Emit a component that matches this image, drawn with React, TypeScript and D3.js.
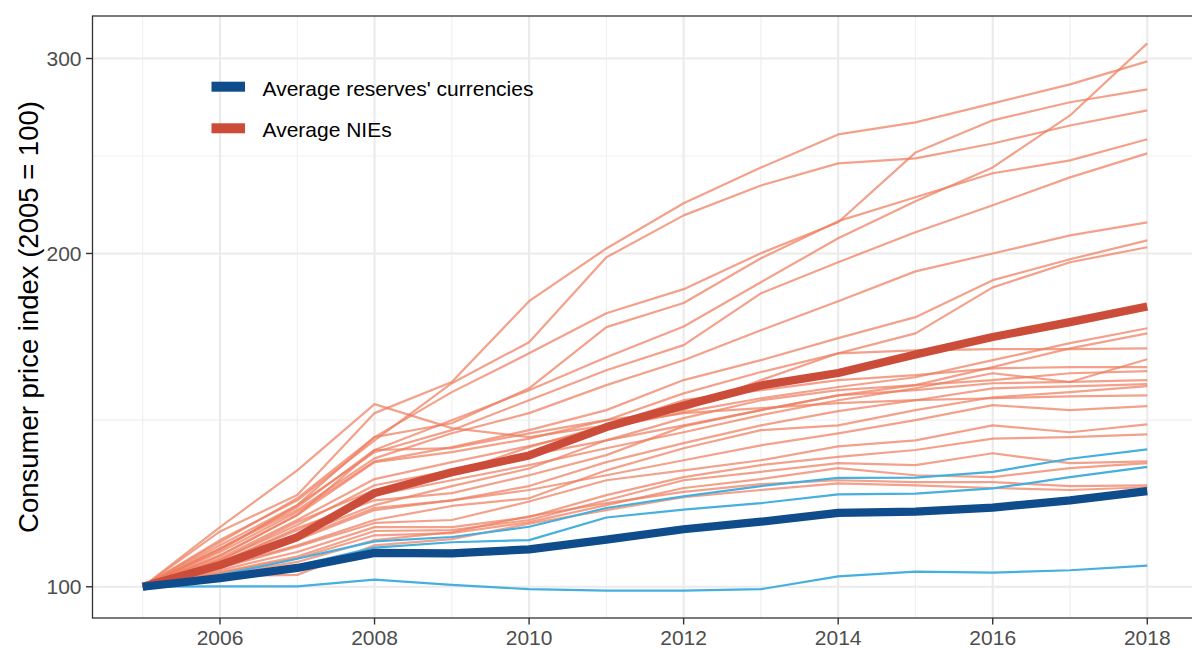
import React from "react";
import * as d3 from "d3";

// ---- data (CPI index, 2005 = 100) ----
const years = [2005, 2006, 2007, 2008, 2009, 2010, 2011, 2012, 2013, 2014, 2015, 2016, 2017, 2018];

const avgReserves = [100, 101.8, 104.0, 107.3, 107.2, 108.1, 110.3, 112.7, 114.5, 116.6, 116.9, 117.9, 119.7, 122.0];
const avgNIEs = [100, 104.6, 110.9, 121.5, 126.9, 131.4, 139.4, 145.8, 152.0, 156.0, 162.1, 168.1, 173.4, 179.1];

const reserve1 = [100, 102.5, 106.0, 109.9, 110.9, 113.3, 117.8, 120.7, 123.3, 125.4, 125.5, 127.0, 130.5, 133.1];
const reserve2 = [100, 101.5, 104.5, 108.5, 109.7, 110.2, 115.5, 117.4, 119.0, 121.2, 121.4, 122.7, 125.6, 128.3];
const reserve3 = [100, 100.1, 100.1, 101.5, 100.4, 99.5, 99.2, 99.2, 99.5, 102.2, 103.2, 103.0, 103.5, 104.5];

const nieA = [100, 112.2, 121.0, 143.5, 153.1, 181.1, 202.1, 222.0, 239.1, 256.2, 262.7, 273.3, 284.3, 298.2];
const nieB = [100, 110.2, 119.7, 135.6, 152.7, 166.3, 198.4, 216.5, 230.4, 241.2, 243.7, 251.4, 261.0, 269.3];
const nieC = [100, 109.0, 118.5, 136.5, 149.9, 162.5, 176.6, 185.7, 200.1, 213.4, 246.7, 263.8, 273.9, 281.3];
const nieD = [100, 108.3, 118.0, 132.9, 141.4, 150.5, 161.2, 171.8, 188.4, 206.4, 222.9, 239.2, 266.5, 309.6];
const nieE = [100, 109.7, 120.2, 136.5, 140.5, 151.1, 171.6, 180.4, 198.0, 213.9, 224.8, 236.3, 242.7, 253.6];
const nieF = [100, 107.9, 118.5, 132.3, 138.5, 147.4, 156.9, 165.3, 184.1, 196.4, 209.0, 221.1, 234.3, 246.3];
const nieG = [100, 108.3, 117.3, 130.6, 137.6, 143.5, 152.1, 160.2, 170.5, 181.1, 192.7, 200.0, 207.7, 213.4];
const nieH = [100, 107.5, 116.8, 129.8, 133.7, 138.5, 144.4, 153.7, 160.2, 167.7, 175.2, 189.2, 197.6, 205.5];
const nieI = [100, 106.8, 116.1, 129.6, 132.3, 136.1, 141.4, 149.5, 156.3, 162.5, 169.4, 186.4, 196.4, 202.6];
const nieP = [100, 113.2, 127.4, 146.2, 139.1, 136.5, 139.9, 143.5, 145.0, 146.5, 147.4, 148.0, 148.6, 148.9];
const nieL1 = [100, 106.1, 114.9, 125.1, 129.6, 134.0, 139.1, 143.8, 148.0, 151.5, 154.6, 160.2, 166.0, 171.2];
const nieL2 = [100, 105.7, 113.7, 123.5, 127.4, 131.5, 135.6, 139.9, 144.4, 148.9, 152.1, 157.9, 164.2, 169.4];
const nieL3 = [100, 106.6, 116.1, 132.9, 133.4, 137.6, 141.4, 144.4, 153.7, 162.5, 163.5, 163.9, 163.9, 164.2];
const nieL4 = [100, 105.3, 112.5, 121.0, 124.8, 128.8, 133.4, 137.9, 142.9, 147.4, 151.1, 155.9, 153.1, 160.5];
const nieL5 = [100, 105.7, 114.4, 122.3, 126.6, 133.7, 139.9, 147.4, 150.5, 153.7, 155.3, 157.5, 157.9, 157.9];
const nieL6 = [100, 104.6, 111.3, 118.5, 123.3, 127.9, 135.6, 142.0, 147.4, 150.5, 152.1, 153.7, 155.9, 156.6];
const nieL7 = [100, 105.0, 113.0, 119.7, 121.5, 126.1, 131.5, 139.6, 144.4, 148.9, 150.5, 152.7, 153.1, 153.7];
const nieL8 = [100, 104.4, 110.2, 117.3, 119.7, 123.3, 129.6, 134.8, 139.9, 144.1, 147.4, 151.1, 151.7, 152.4];
const nieL9 = [100, 104.2, 109.0, 114.9, 118.3, 120.2, 127.4, 133.4, 138.5, 139.9, 144.4, 148.3, 149.9, 151.8];
const nieL11 = [100, 104.6, 110.6, 117.8, 119.7, 122.3, 126.1, 130.1, 134.2, 137.6, 141.4, 145.9, 144.4, 145.6];
const nieL12 = [100, 104.0, 108.7, 114.2, 114.9, 119.4, 124.8, 127.4, 130.1, 133.9, 135.6, 139.9, 137.9, 140.2];
const nieL13 = [100, 103.5, 107.5, 113.2, 113.2, 115.6, 121.0, 125.6, 128.8, 131.0, 132.9, 136.1, 136.5, 137.3];
const nieL14 = [100, 103.1, 106.5, 112.3, 112.5, 114.9, 119.7, 124.8, 127.0, 129.3, 128.8, 132.0, 129.3, 129.8];
const nieL15 = [100, 102.9, 106.1, 111.3, 111.8, 114.4, 118.5, 122.8, 125.1, 128.0, 126.1, 125.6, 128.0, 129.3];
const nieL16 = [100, 102.5, 105.3, 110.2, 112.0, 115.8, 119.0, 121.8, 123.8, 124.8, 124.3, 124.3, 123.3, 123.5];
const nieL17 = [100, 102.2, 102.5, 109.0, 110.4, 114.0, 117.3, 120.5, 122.3, 124.0, 123.5, 122.8, 122.3, 123.0];

const nieSeries = [
  nieA, nieB, nieC, nieD, nieE, nieF, nieG, nieH, nieI, nieP,
  nieL1, nieL2, nieL3, nieL4, nieL5, nieL6, nieL7, nieL8, nieL9,
  nieL11, nieL12, nieL13, nieL14, nieL15, nieL16, nieL17,
];
const reserveSeries = [reserve1, reserve2, reserve3];

const xTicks = [2006, 2008, 2010, 2012, 2014, 2016, 2018];
const xMinor = [2005, 2007, 2009, 2011, 2013, 2015, 2017, 2019];
const yTicks = [100, 200, 300];
const legendLabels = ["Average reserves' currencies", "Average NIEs"];
const yTitle = "Consumer price index (2005 = 100)";

// ---- layout & style ----
const W = 1192;
const H = 648;
const panel = { left: 92.5, right: 1197.5, top: 16, bottom: 618 };
const FONT = "'Liberation Sans', Arial, Helvetica, sans-serif";
const C_NIE = "#ee7d5e";
const C_RES = "#45b0dd";
const C_AVG_NIE = "#cc4c3a";
const C_AVG_RES = "#0e4c8b";

export default function App() {
  const allVals = [...nieSeries, ...reserveSeries, avgNIEs, avgReserves].flat();
  const lmin = Math.log10(d3.min(allVals) as number);
  const lmax = Math.log10(d3.max(allVals) as number);
  const pad = (lmax - lmin) * 0.05;
  const y = d3
    .scaleLog()
    .domain([Math.pow(10, lmin - pad), Math.pow(10, lmax + pad)])
    .range([panel.bottom, panel.top]);
  const xSpan = years[years.length - 1] - years[0];
  const x = d3
    .scaleLinear()
    .domain([years[0] - 0.05 * xSpan, years[years.length - 1] + 0.05 * xSpan])
    .range([panel.left, panel.right]);

  const line = d3
    .line<number>()
    .x((_, i) => x(years[i]))
    .y((v) => y(v));

  const yMinor = yTicks.slice(1).map((t, i) => Math.sqrt(t * yTicks[i]));

  return (
    <svg
      width={W}
      height={H}
      style={{ position: "absolute", left: 0, top: 0, background: "#fff" }}
      fontFamily={FONT}
    >
      <rect x={0} y={0} width={W} height={H} fill="#fff" />
      <defs>
        <clipPath id="panelClip">
          <rect x={panel.left} y={panel.top} width={panel.right - panel.left} height={panel.bottom - panel.top} />
        </clipPath>
      </defs>
      {/* grid */}
      <g>
        {yMinor.map((v) => (
          <line key={"ym" + v} x1={panel.left} x2={panel.right} y1={y(v)} y2={y(v)} stroke="#f0f0f0" strokeWidth={1.2} />
        ))}
        {xMinor.map((v) => (
          <line key={"xm" + v} x1={x(v)} x2={x(v)} y1={panel.top} y2={panel.bottom} stroke="#f0f0f0" strokeWidth={1.2} />
        ))}
        {yTicks.map((v) => (
          <line key={"yg" + v} x1={panel.left} x2={panel.right} y1={y(v)} y2={y(v)} stroke="#ebebeb" strokeWidth={2.2} />
        ))}
        {xTicks.map((v) => (
          <line key={"xg" + v} x1={x(v)} x2={x(v)} y1={panel.top} y2={panel.bottom} stroke="#ebebeb" strokeWidth={2.2} />
        ))}
      </g>
      {/* series */}
      <g clipPath="url(#panelClip)" fill="none" strokeLinejoin="round">
        {nieSeries.map((s, i) => (
          <path key={"n" + i} d={line(s) || ""} stroke={C_NIE} strokeOpacity={0.72} strokeWidth={2.2} />
        ))}
        {reserveSeries.map((s, i) => (
          <path key={"r" + i} d={line(s) || ""} stroke={C_RES} strokeWidth={2.2} />
        ))}
        <path d={line(avgNIEs) || ""} stroke={C_AVG_NIE} strokeWidth={8.2} />
        <path d={line(avgReserves) || ""} stroke={C_AVG_RES} strokeWidth={8.2} />
      </g>
      {/* panel border */}
      <rect
        x={panel.left}
        y={panel.top}
        width={panel.right - panel.left}
        height={panel.bottom - panel.top}
        fill="none"
        stroke="#333333"
        strokeWidth={1.3}
      />
      {/* y axis ticks & labels */}
      {yTicks.map((v) => (
        <g key={"yt" + v}>
          <line x1={panel.left - 6.5} x2={panel.left} y1={y(v)} y2={y(v)} stroke="#333333" strokeWidth={1.4} />
          <text x={panel.left - 11} y={y(v) + 7.5} textAnchor="end" fontSize={21} fill="#4d4d4d">
            {v}
          </text>
        </g>
      ))}
      {/* x axis ticks & labels */}
      {xTicks.map((v) => (
        <g key={"xt" + v}>
          <line x1={x(v)} x2={x(v)} y1={panel.bottom} y2={panel.bottom + 6.5} stroke="#333333" strokeWidth={1.4} />
          <text x={x(v)} y={panel.bottom + 26.5} textAnchor="middle" fontSize={21} fill="#4d4d4d">
            {v}
          </text>
        </g>
      ))}
      {/* y title */}
      <text
        transform={`translate(38, ${(panel.top + panel.bottom) / 2}) rotate(-90)`}
        textAnchor="middle"
        fontSize={27.5}
        fill="#000"
      >
        {yTitle}
      </text>
      {/* legend */}
      {legendLabels.map((lab, i) => (
        <g key={"lg" + i}>
          <rect x={211.5} y={81.7 + i * 41.6} width={33.5} height={10} fill={i === 0 ? C_AVG_RES : C_AVG_NIE} />
          <text x={262.5} y={95.5 + i * 41.2} fontSize={21} fill="#000">
            {lab}
          </text>
        </g>
      ))}
    </svg>
  );
}
